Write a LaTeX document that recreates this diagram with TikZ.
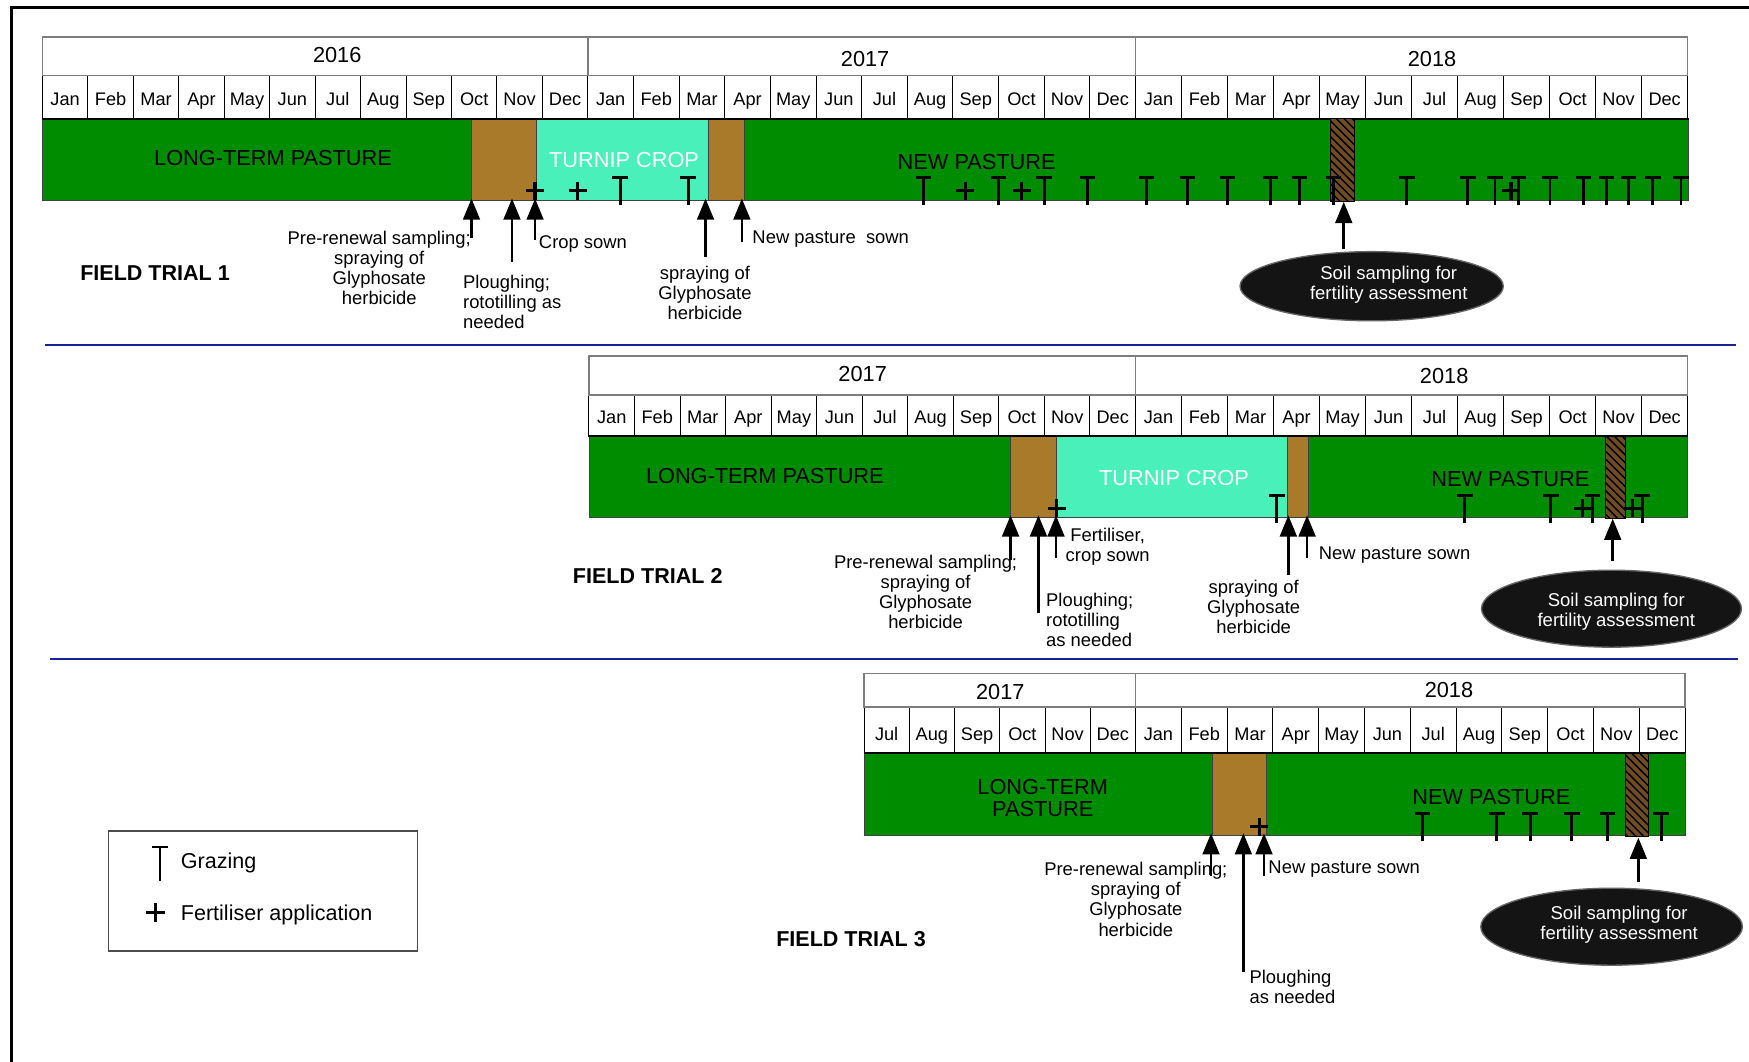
\documentclass[tikz,border=0pt]{standalone}
\usepackage{fontspec}
\setmainfont{Liberation Sans}
\usetikzlibrary{arrows.meta,shapes.geometric,patterns.meta}
\definecolor{pgreen}{RGB}{0,140,0}
\definecolor{pbrown}{RGB}{168,122,42}
\definecolor{pcyan}{RGB}{74,240,186}
\definecolor{phatch}{RGB}{112,76,38}
\definecolor{pblue}{RGB}{22,36,150}
\definecolor{pgrid}{RGB}{125,125,125}
\newcommand\mnth[1]{\ifcase#1\relax Jan\or Feb\or Mar\or Apr\or May\or Jun\or Jul\or Aug\or Sep\or Oct\or Nov\or Dec\fi}
\tikzset{
  smalltxt/.style={font=\fontsize{16.5}{18}\selectfont, inner sep=0pt, align=center, anchor=north},
  smallleft/.style={font=\fontsize{16.5}{18}\selectfont, inner sep=0pt, align=left, anchor=north west},
  bartxt/.style={font=\fontsize{19.5}{20}\selectfont, inner sep=0pt, align=center, anchor=north},
  monthtxt/.style={font=\fontsize{16.3}{18}\selectfont, inner sep=0pt, anchor=base},
  yeartxt/.style={font=\fontsize{19.5}{20}\selectfont, inner sep=0pt, anchor=base},
  trialtxt/.style={font=\bfseries\fontsize{19.3}{20}\selectfont, inner sep=0pt, anchor=north},
  legtxt/.style={font=\fontsize{19.3}{20}\selectfont, inner sep=0pt, anchor=north west},
  yearcell/.style={draw=pgrid, line width=1.3pt},
  monthcell/.style={draw=black, line width=0.9pt},
  segline/.style={draw=black!75, line width=0.8pt},
  hatchfill/.style={pattern={Lines[angle=-45,distance=5pt,line width=1.3pt]}, pattern color=black},
  evarrow/.style={-{Triangle[width=15pt,length=19pt]}, line width=2.4pt},
  soilell/.style={ellipse, fill=black!92, draw=black!60, line width=1.2pt, inner sep=0pt},
  elltxt/.style={font=\fontsize{16.6}{18}\selectfont, inner sep=0pt, align=center, anchor=north, text=white},
  graze/.pic={\draw[line width=2.6pt] (-7,0) -- (7,0) (0,0) -- (0,24.5);},
  fert/.pic={\draw[line width=2.8pt] (-8,0) -- (8,0) (0,-8) -- (0,8);},
}
\begin{document}
\begin{tikzpicture}[x=1pt,y=-1pt]
\useasboundingbox (0,0) rectangle (1568,952);
\fill[white] (0,0) rectangle (1568,952);
% frame and separators
\draw[line width=2.6pt] (1568,7) -- (10,7) -- (10,952);
\draw[pblue, line width=2pt] (40,309.3) -- (1556,309.3);
\draw[pblue, line width=2pt] (45,590.8) -- (1558,590.8);

%% ================= TRIAL 1 =================
\foreach \xa/\xb/\fm [count=\s] in {38/527/0, 527/1018/0, 1018/1513/0} {
  \foreach \k in {\fm,...,11} {
    \pgfmathsetmacro\wa{\xa+(\k-\fm)*(\xb-\xa)/(12-\fm)}
    \pgfmathsetmacro\wb{\xa+(\k-\fm+1)*(\xb-\xa)/(12-\fm)}
    \draw[monthcell] (\wa,67.5) rectangle (\wb,106.5);
    \node[monthtxt] (ma-\s-\k) at ({(\wa+\wb)/2},94.5) {\mnth{\k}};
  }
  \draw[yearcell] (\xa,33) rectangle (\xb,67.5);
}
\node[yeartxt] (ya16) at (302.3,56.3) {2016};
\node[yeartxt] (ya17) at (775.6,59.3) {2017};
\node[yeartxt] (ya18) at (1283.8,59.3) {2018};

\filldraw[fill=pgreen, segline] (38,106.5) rectangle (422.7,179.3);
\filldraw[fill=pbrown, segline] (422.7,106.5) rectangle (481,179.3);
\filldraw[fill=pcyan, segline] (481,106.5) rectangle (635,179.3);
\filldraw[fill=pbrown, segline] (635,106.5) rectangle (667.5,179.3);
\filldraw[fill=pgreen, segline] (667.5,106.5) rectangle (1514,179.3);
\draw[line width=1.8pt] (38,106.5) -- (1514,106.5);
\filldraw[fill=phatch, draw=black, line width=1pt] (1193,106.5) rectangle (1214,181);
\fill[hatchfill] (1193,106.5) rectangle (1214,181);
\draw[black, line width=1pt] (1193,106.5) rectangle (1214,181);

\node[bartxt] (lt1) at (244.8,135) {LONG-TERM PASTURE};
\node[bartxt, text=white] (tc1) at (559.5,136) {TURNIP CROP};
\node[bartxt] (np1) at (875.6,138) {NEW PASTURE};

\foreach \gx in {556,617,828,895,936,975,1028,1064.6,1100.5,1138.9,1165,1195.4,1261.2,1316,1340.3,1361.5,1389.6,1419.7,1440.3,1460.1,1481.7,1507}
  \pic at (\gx,159) {graze};
\foreach \fx in {479.6,518,865.5,916,1354.6}
  \pic at (\fx,171) {fert};

\coordinate (a1t) at (422.7,213.6); \coordinate (a1h) at (422.7,178);
\coordinate (a2t) at (459,234.6);   \coordinate (a2h) at (459,178);
\coordinate (a3t) at (479.7,215);   \coordinate (a3h) at (479.7,178);
\coordinate (a4t) at (632.5,230);   \coordinate (a4h) at (632.5,178);
\coordinate (a5t) at (665.1,216.7); \coordinate (a5h) at (665.1,178);
\coordinate (a6t) at (1204.7,223);  \coordinate (a6h) at (1204.7,181);
\foreach \i in {1,...,6} \draw[evarrow] (a\i t) -- (a\i h);

\node[smalltxt] (pr1) at (340,207.2) {Pre-renewal sampling;\\spraying of\\Glyphosate\\herbicide};
\node[smallleft] (pl1) at (415,246.1) {Ploughing;\\rototilling as\\needed};
\node[smallleft] (cs1) at (483,211.2) {Crop sown};
\node[smalltxt] (sp1) at (632,238.1) {spraying of\\Glyphosate\\herbicide};
\node[smallleft] (ns1) at (674.4,206.7) {New pasture\ \ sown};
\node[soilell, minimum width=236pt, minimum height=62pt] (e1) at (1229.7,256.6) {};
\node[elltxt] (e1t) at (1245,238.1) {Soil sampling for\\fertility assessment};
\node[trialtxt] (ft1) at (139,238) {FIELD TRIAL 1};

%% ================= TRIAL 2 =================
\foreach \xa/\xb/\fm [count=\s] in {528/1018/0, 1018/1513/0} {
  \foreach \k in {\fm,...,11} {
    \pgfmathsetmacro\wa{\xa+(\k-\fm)*(\xb-\xa)/(12-\fm)}
    \pgfmathsetmacro\wb{\xa+(\k-\fm+1)*(\xb-\xa)/(12-\fm)}
    \draw[monthcell] (\wa,354) rectangle (\wb,391);
    \node[monthtxt] (mb-\s-\k) at ({(\wa+\wb)/2},379.6) {\mnth{\k}};
  }
  \draw[yearcell] (\xa,319) rectangle (\xb,354);
}
\node[yeartxt] (yb17) at (773.4,341.7) {2017};
\node[yeartxt] (yb18) at (1294.7,344.1) {2018};

\filldraw[fill=pgreen, segline] (528,391) rectangle (906,463.5);
\filldraw[fill=pbrown, segline] (906,391) rectangle (947.3,463.5);
\filldraw[fill=pcyan, segline] (947.3,391) rectangle (1154.4,463.5);
\filldraw[fill=pbrown, segline] (1154.4,391) rectangle (1172.9,463.5);
\filldraw[fill=pgreen, segline] (1172.9,391) rectangle (1513,463.5);
\draw[line width=1.8pt] (528,391) -- (1513,391);
\filldraw[fill=phatch, draw=black, line width=1pt] (1439,391) rectangle (1457,465);
\fill[hatchfill] (1439,391) rectangle (1457,465);
\draw[black, line width=1pt] (1439,391) rectangle (1457,465);

\node[bartxt] (lt2) at (685.7,419.8) {LONG-TERM PASTURE};
\node[bartxt, text=white] (tc2) at (1052.5,421) {TURNIP CROP};
\node[bartxt] (np2) at (1354,422) {NEW PASTURE};

\foreach \gx in {1144.6,1313.2,1390.4,1427.7,1472.2}
  \pic at (\gx,444) {graze};
\foreach \fx in {947.3,1419,1463.5}
  \pic at (\fx,455.7) {fert};

\coordinate (b1t) at (906,502);     \coordinate (b1h) at (906,462);
\coordinate (b2t) at (931,550);     \coordinate (b2h) at (931,462);
\coordinate (b3t) at (946.7,500.6); \coordinate (b3h) at (946.7,462);
\coordinate (b4t) at (1155,515.5);  \coordinate (b4h) at (1155,462);
\coordinate (b5t) at (1171.8,500.6);\coordinate (b5h) at (1171.8,462);
\coordinate (b6t) at (1445.8,503);  \coordinate (b6h) at (1445.8,465);
\foreach \i in {1,...,6} \draw[evarrow] (b\i t) -- (b\i h);

\node[smalltxt] (pr2) at (829.8,497.2) {Pre-renewal sampling;\\spraying of\\Glyphosate\\herbicide};
\node[smallleft] (pl2) at (937.7,531.6) {Ploughing;\\rototilling\\as needed};
\node[smalltxt] (fc2) at (993,473.2) {Fertiliser,\\crop sown};
\node[smalltxt] (sp2) at (1123.9,519.6) {spraying of\\Glyphosate\\herbicide};
\node[smallleft] (ns2) at (1182.2,489.7) {New pasture sown};
\node[soilell, minimum width=233pt, minimum height=69pt] (e2) at (1444.7,545.7) {};
\node[elltxt] (e2t) at (1449,531.6) {Soil sampling for\\fertility assessment};
\node[trialtxt] (ft2) at (580.7,509.4) {FIELD TRIAL 2};

%% ================= TRIAL 3 =================
\foreach \xa/\xb/\fm [count=\s] in {774.6/1018/6, 1018/1510.7/0} {
  \foreach \k in {\fm,...,11} {
    \pgfmathsetmacro\wa{\xa+(\k-\fm)*(\xb-\xa)/(12-\fm)}
    \pgfmathsetmacro\wb{\xa+(\k-\fm+1)*(\xb-\xa)/(12-\fm)}
    \draw[monthcell] (\wa,634) rectangle (\wb,675.4);
    \node[monthtxt] (mc-\s-\k) at ({(\wa+\wb)/2},663.5) {\mnth{\k}};
  }
  \draw[yearcell] (\xa,604) rectangle (\xb,634);
}
\node[yeartxt] (yc17) at (896.8,627.1) {2017};
\node[yeartxt] (yc18) at (1299,625.6) {2018};

\filldraw[fill=pgreen, segline] (774.6,675.4) rectangle (1087,748.6);
\filldraw[fill=pbrown, segline] (1087,675.4) rectangle (1135.7,748.6);
\filldraw[fill=pgreen, segline] (1135.7,675.4) rectangle (1510.7,748.6);
\draw[line width=1.8pt] (774.6,675.4) -- (1510.7,675.4);
\filldraw[fill=phatch, draw=black, line width=1pt] (1457.5,675.4) rectangle (1478,750);
\fill[hatchfill] (1457.5,675.4) rectangle (1478,750);
\draw[black, line width=1pt] (1457.5,675.4) rectangle (1478,750);

\node[bartxt] (lt3) at (934.8,698.3) {LONG-TERM\\PASTURE};
\node[bartxt] (np3) at (1337,707.3) {NEW PASTURE};

\foreach \gx in {1275.2,1341.8,1371.7,1409.1,1441,1489.2}
  \pic at (\gx,729.2) {graze};
\pic at (1129,741.2) {fert};

\coordinate (c1t) at (1085.7,785.4); \coordinate (c1h) at (1085.7,747);
\coordinate (c2t) at (1114.7,871.2); \coordinate (c2h) at (1114.7,747);
\coordinate (c3t) at (1133.2,785.4); \coordinate (c3h) at (1133.2,747);
\coordinate (c4t) at (1468.8,790.5); \coordinate (c4h) at (1468.8,751);
\foreach \i in {1,...,4} \draw[evarrow] (c\i t) -- (c\i h);

\node[smalltxt] (pr3) at (1018.3,773) {Pre-renewal sampling;\\spraying of\\Glyphosate\\herbicide};
\node[smallleft] (pl3) at (1120,869.8) {Ploughing\\as needed};
\node[smallleft] (ns3) at (1137,771.2) {New pasture sown};
\node[soilell, minimum width=234.5pt, minimum height=69pt] (e3) at (1444.8,830.8) {};
\node[elltxt] (e3t) at (1451.5,812.4) {Soil sampling for\\fertility assessment};
\node[trialtxt] (ft3) at (763,835) {FIELD TRIAL 3};

%% ================= LEGEND =================
\draw[draw=black!70, line width=1pt] (97.3,745) rectangle (374.2,852.6);
\draw[line width=1.8pt] (136.3,759) -- (150.3,759) (143.3,759) -- (143.3,790);
\node[legtxt] (lg1) at (162,764.4) {Grazing};
\draw[line width=2.6pt] (130.8,818.3) -- (147.8,818.3) (139.3,809.8) -- (139.3,826.8);
\node[legtxt] (lg2) at (162,810.8) {Fertiliser application};
\end{tikzpicture}
\end{document}
